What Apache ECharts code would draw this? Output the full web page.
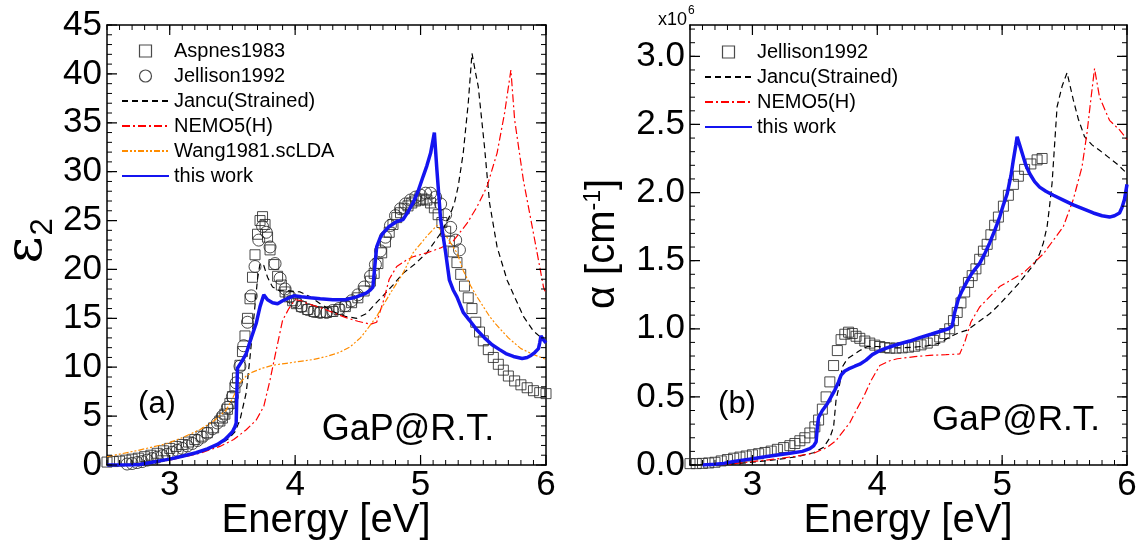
<!DOCTYPE html>
<html>
<head>
<meta charset="utf-8">
<script src="https://cdn.jsdelivr.net/npm/echarts@6/dist/echarts.min.js"></script>
<style>
  html, body { margin: 0; padding: 0; background: #fff; }
  #chart { width: 1143px; height: 546px; }
</style>
</head>
<body>
<div id="chart"></div>
<script>
// ---- tick labels ----
const energyTicks = [3, 4, 5, 6];
const eps2Ticks = [0, 5, 10, 15, 20, 25, 30, 35, 40, 45];
const alphaTicks = [0, 0.5, 1.0, 1.5, 2.0, 2.5, 3.0];

// ---- (a) imaginary dielectric function eps2 ----
const aspnesE = [2.50,2.55,2.60,2.65,2.70,2.75,2.80,2.85,2.90,2.95,3.00,3.05,3.10,3.15,3.20,3.25,3.30,3.35,3.40,3.42,3.44,3.46,3.48,3.50,3.52,3.54,3.56,3.58,3.60,3.62,3.64,3.66,3.68,3.70,3.72,3.74,3.76,3.78,3.80,3.83,3.86,3.89,3.92,3.95,3.98,4.01,4.05,4.10,4.15,4.20,4.25,4.30,4.35,4.40,4.45,4.50,4.55,4.60,4.63,4.66,4.69,4.72,4.75,4.78,4.81,4.84,4.87,4.90,4.93,4.96,4.99,5.02,5.05,5.08,5.11,5.14,5.17,5.20,5.23,5.26,5.29,5.32,5.35,5.38,5.41,5.44,5.47,5.50,5.54,5.58,5.62,5.66,5.70,5.75,5.80,5.85,5.90,5.95,6.00];
const aspnesEps2 = [0.30,0.35,0.40,0.50,0.60,0.70,0.85,1.00,1.20,1.45,1.70,1.90,2.10,2.35,2.60,2.95,3.30,3.80,4.50,4.80,5.20,5.70,6.30,7.00,7.90,8.90,10.2,11.6,13.2,15.0,17.0,19.2,21.5,23.6,25.0,25.4,24.6,23.3,22.0,20.5,19.3,18.4,17.7,17.2,16.8,16.5,16.2,15.9,15.7,15.6,15.6,15.7,15.9,16.2,16.6,17.1,17.8,18.8,19.6,20.6,21.7,22.8,23.8,24.6,25.3,25.8,26.2,26.5,26.8,27.0,27.1,27.2,27.1,26.8,26.3,25.6,24.8,23.9,22.9,21.8,20.7,19.5,18.3,17.1,16.0,14.6,13.6,12.7,11.8,11.0,10.3,9.7,9.1,8.6,8.2,7.9,7.6,7.4,7.3];

const jellisonE = [2.66,2.70,2.74,2.78,2.82,2.86,2.90,2.94,2.98,3.02,3.06,3.10,3.14,3.18,3.22,3.26,3.30,3.34,3.38,3.42,3.46,3.50,3.53,3.56,3.59,3.62,3.65,3.68,3.71,3.74,3.77,3.80,3.84,3.88,3.92,3.96,4.00,4.05,4.10,4.15,4.20,4.25,4.30,4.35,4.40,4.45,4.50,4.55,4.60,4.64,4.68,4.72,4.76,4.80,4.84,4.88,4.92,4.96,5.00,5.04,5.08,5.12,5.16,5.20,5.24,5.28,5.31];
const jellisonEps2 = [0.10,0.15,0.25,0.35,0.50,0.65,0.80,0.95,1.10,1.30,1.50,1.70,1.95,2.20,2.50,2.85,3.25,3.70,4.30,5.00,5.90,7.00,8.40,10.1,12.2,14.6,17.3,20.3,23.0,24.4,23.8,22.3,20.6,19.1,18.0,17.2,16.7,16.2,15.9,15.7,15.6,15.6,15.8,16.0,16.3,16.8,17.4,18.2,19.3,20.5,21.9,23.3,24.5,25.5,26.2,26.7,27.1,27.4,27.6,27.8,27.8,27.4,26.7,25.6,24.3,23.0,22.0];

const jancuE = [2.50,2.70,2.80,2.90,3.00,3.10,3.20,3.30,3.40,3.47,3.52,3.56,3.61,3.64,3.67,3.70,3.72,3.75,3.78,3.82,3.88,3.95,4.04,4.12,4.20,4.30,4.40,4.49,4.57,4.64,4.70,4.78,4.86,4.95,5.05,5.16,5.23,5.27,5.30,5.34,5.38,5.41,5.44,5.46,5.51,5.55,5.61,5.69,5.76,5.82,5.90,6.00];
const jancuEps2 = [0,0.02,0.10,0.30,0.55,0.85,1.15,1.55,2.10,2.70,3.40,4.60,7.40,11.0,15.0,19.0,20.6,20.4,19.2,18.2,17.8,17.8,17.7,17.2,16.5,15.7,15.2,15.0,15.5,16.5,17.3,18.4,19.6,20.5,21.7,23.7,25.4,26.8,28.5,31.9,37.0,42.1,40.0,38.7,32.5,26.8,22.3,18.9,16.9,15.2,13.7,12.6];

const nemoE = [2.50,2.70,2.84,3.00,3.24,3.40,3.51,3.61,3.69,3.75,3.80,3.85,3.90,3.95,4.00,4.05,4.10,4.20,4.30,4.40,4.50,4.60,4.65,4.70,4.75,4.81,4.88,4.94,5.05,5.16,5.26,5.37,5.45,5.53,5.61,5.67,5.72,5.75,5.82,5.90,5.98,6.00];
const nemoEps2 = [0,0,0.2,0.5,1.2,1.9,2.6,3.6,4.6,6.0,8.7,11.8,14.8,16.0,16.9,16.8,16.5,16.1,15.6,15.1,14.7,14.4,14.6,16.6,19.0,20.3,20.9,21.3,21.7,22.2,22.9,24.7,26.4,28.5,31.9,36.0,40.4,35.3,29.1,23.7,18.2,17.5];

const wangE = [2.50,2.75,2.98,3.10,3.24,3.35,3.45,3.50,3.56,3.61,3.66,3.74,3.82,3.93,4.04,4.15,4.25,4.35,4.44,4.52,4.57,4.65,4.71,4.76,4.81,4.86,4.94,5.05,5.13,5.21,5.29,5.34,5.40,5.45,5.55,5.60,5.70,5.80,5.90,6.00];
const wangEps2 = [0.85,1.5,2.2,2.8,3.6,4.5,5.6,6.8,8.4,9.1,9.5,9.9,10.2,10.4,10.6,10.8,11.1,11.5,12.1,13.0,13.8,15.2,16.5,17.6,18.6,19.6,21.7,23.4,24.5,23.3,21.7,19.9,18.3,17.2,15.2,14.4,13.0,11.9,11.3,10.8];

const workE = [2.50,2.60,2.70,2.76,2.85,2.95,3.00,3.10,3.21,3.30,3.38,3.44,3.47,3.50,3.52,3.53,3.54,3.58,3.61,3.65,3.69,3.72,3.75,3.78,3.82,3.86,3.90,3.95,3.99,4.05,4.12,4.20,4.30,4.40,4.49,4.57,4.60,4.62,4.64,4.65,4.68,4.70,4.75,4.81,4.86,4.90,4.94,4.98,5.02,5.05,5.08,5.11,5.13,5.16,5.20,5.23,5.26,5.29,5.34,5.39,5.45,5.51,5.57,5.63,5.68,5.74,5.81,5.85,5.88,5.91,5.94,5.95,5.96,5.98,6.00];
const workEps2 = [0,0,0,0.05,0.25,0.50,0.60,0.90,1.25,1.65,2.10,2.60,3.00,3.40,3.90,4.30,9.90,10.7,11.4,13.0,14.5,16.2,17.4,16.9,16.6,16.5,16.8,17.1,17.3,17.2,17.1,17.0,16.9,16.9,17.2,17.6,17.9,18.2,21.0,22.3,23.3,23.7,24.4,24.9,25.1,25.9,26.8,28.0,29.5,30.6,31.9,34.0,30.2,25.1,21.7,18.9,17.9,17.2,15.6,14.8,13.8,13.0,12.3,11.8,11.4,11.1,10.9,11.0,11.2,11.5,11.9,12.5,13.2,12.8,12.5];

// ---- (b) absorption coefficient alpha, in units of 1e6 cm^-1 ----
const jellisonAlphaE = [2.50,2.55,2.60,2.65,2.70,2.75,2.80,2.85,2.90,2.95,3.00,3.05,3.10,3.15,3.20,3.25,3.30,3.34,3.38,3.42,3.46,3.50,3.53,3.56,3.59,3.62,3.65,3.68,3.71,3.74,3.77,3.80,3.83,3.86,3.90,3.94,3.98,4.02,4.06,4.10,4.15,4.20,4.25,4.30,4.35,4.40,4.45,4.50,4.54,4.58,4.61,4.64,4.67,4.70,4.73,4.76,4.79,4.82,4.85,4.88,4.91,4.94,4.97,5.01,5.05,5.09,5.13,5.18,5.23,5.28,5.32];
const jellisonAlpha = [0.010,0.010,0.012,0.015,0.020,0.030,0.040,0.050,0.058,0.066,0.075,0.083,0.092,0.102,0.115,0.128,0.142,0.158,0.178,0.20,0.235,0.28,0.33,0.41,0.50,0.61,0.73,0.84,0.92,0.96,0.975,0.965,0.945,0.93,0.91,0.895,0.88,0.87,0.862,0.858,0.858,0.86,0.865,0.872,0.882,0.895,0.915,0.94,0.965,1.00,1.06,1.12,1.19,1.27,1.34,1.39,1.44,1.51,1.57,1.62,1.69,1.76,1.82,1.90,1.98,2.06,2.12,2.17,2.21,2.24,2.25];

const jancuAlphaE = [2.50,2.80,3.00,3.20,3.35,3.49,3.57,3.62,3.65,3.67,3.70,3.72,3.76,3.81,3.86,3.92,4.00,4.10,4.20,4.30,4.40,4.50,4.58,4.65,4.72,4.81,4.90,4.98,5.06,5.13,5.20,5.26,5.30,5.33,5.36,5.38,5.40,5.42,5.44,5.48,5.52,5.57,5.61,5.66,5.72,5.78,5.85,5.92,6.00];
const jancuAlpha = [0,0.005,0.02,0.04,0.06,0.09,0.13,0.20,0.28,0.48,0.60,0.72,0.78,0.81,0.84,0.87,0.87,0.86,0.86,0.865,0.875,0.895,0.94,0.97,0.99,1.05,1.11,1.18,1.26,1.33,1.41,1.48,1.55,1.63,1.75,1.90,2.07,2.35,2.63,2.78,2.88,2.68,2.54,2.41,2.35,2.31,2.26,2.21,2.14];

const nemoAlphaE = [2.60,2.80,3.00,3.20,3.34,3.49,3.60,3.67,3.72,3.78,3.83,3.89,3.95,4.02,4.10,4.16,4.30,4.42,4.55,4.66,4.70,4.75,4.82,4.98,5.17,5.33,5.49,5.57,5.64,5.68,5.71,5.74,5.78,5.86,5.94,6.00];
const nemoAlpha = [0,0.005,0.025,0.045,0.064,0.086,0.13,0.18,0.24,0.31,0.40,0.50,0.62,0.73,0.765,0.78,0.795,0.805,0.81,0.815,0.90,1.05,1.16,1.31,1.41,1.55,1.75,1.95,2.19,2.44,2.68,2.91,2.70,2.53,2.46,2.39];

const workAlphaE = [2.60,2.70,2.77,2.85,2.99,3.10,3.20,3.30,3.40,3.46,3.49,3.51,3.52,3.53,3.56,3.60,3.63,3.66,3.69,3.71,3.74,3.77,3.82,3.86,3.91,3.96,4.00,4.05,4.11,4.18,4.26,4.34,4.43,4.50,4.57,4.60,4.62,4.65,4.68,4.72,4.76,4.82,4.86,4.90,4.94,4.98,5.01,5.04,5.07,5.09,5.11,5.12,5.14,5.16,5.19,5.22,5.26,5.30,5.35,5.41,5.49,5.57,5.65,5.73,5.80,5.86,5.90,5.94,5.96,5.98,6.00];
const workAlpha = [0,0.005,0.012,0.025,0.045,0.060,0.074,0.087,0.100,0.12,0.14,0.17,0.28,0.35,0.40,0.45,0.50,0.55,0.61,0.66,0.69,0.705,0.725,0.74,0.77,0.81,0.83,0.85,0.87,0.89,0.91,0.935,0.96,0.98,1.00,1.02,1.12,1.22,1.28,1.35,1.41,1.48,1.55,1.63,1.72,1.82,1.91,1.99,2.12,2.24,2.35,2.41,2.35,2.29,2.20,2.14,2.08,2.04,2.01,1.98,1.945,1.91,1.88,1.85,1.83,1.82,1.83,1.85,1.89,1.95,2.06];

const pairs = (xs, ys) => xs.map((x, i) => [x, ys[i]]);

const FONT = 'Liberation Sans, Arial, sans-serif';
const BLUE = '#1414f0';
const TICK_FONT = 35;
const E_MIN = 2.5, E_MAX = 6;
const EPS2_MAX = 45, ALPHA_MAX = 3.23;

const GRIDS = [
  { left: 107, top: 25, width: 439, height: 440 },
  { left: 690, top: 25, width: 437, height: 440 }
];

// ---- axes: labelled bottom/left axis and plain mirrored top/right axis per panel ----
function frameLine() {
  return { show: true, onZero: false, lineStyle: { color: '#000', width: 1.5 } };
}
function xAxesFor(gi) {
  const base = () => ({ type: 'value', gridIndex: gi, min: E_MIN, max: E_MAX, splitLine: { show: false }, axisTick: { show: false } });
  return [
    Object.assign(base(), { position: 'bottom', axisLine: frameLine(),
      axisLabel: { show: true, customValues: energyTicks, fontSize: TICK_FONT, fontFamily: FONT, color: '#000', margin: 3 } }),
    Object.assign(base(), { position: 'top', axisLine: frameLine(), axisLabel: { show: false } })
  ];
}
function yAxesFor(gi, max, ticks, digits) {
  const base = () => ({ type: 'value', gridIndex: gi, min: 0, max: max, splitLine: { show: false }, axisTick: { show: false } });
  return [
    Object.assign(base(), { position: 'left', axisLine: frameLine(),
      axisLabel: { show: true, customValues: ticks, fontSize: TICK_FONT, fontFamily: FONT, color: '#000', margin: 5,
                   formatter: (v) => Number(v).toFixed(digits) } }),
    Object.assign(base(), { position: 'right', axisLine: frameLine(), axisLabel: { show: false } })
  ];
}

// ---- inward tick marks on all four sides, as short broken line segments in data units ----
// px lengths are converted with the panel's own axis spans
function tickSegments(grid, yMax, xVals, yVals, lenPx) {
  const dx = lenPx * (E_MAX - E_MIN) / grid.width;
  const dy = lenPx * yMax / grid.height;
  const seg = [];
  xVals.forEach(v => {
    seg.push([v, 0], [v, dy], [v, NaN]);
    seg.push([v, yMax], [v, yMax - dy], [v, NaN]);
  });
  yVals.forEach(v => {
    seg.push([E_MIN, v], [E_MIN + dx, v], [E_MIN, NaN]);
    seg.push([E_MAX, v], [E_MAX - dx, v], [E_MAX, NaN]);
  });
  return seg;
}
function steps(from, to, step) {
  const out = [];
  const n = Math.round((to - from) / step);
  for (let i = 0; i <= n; i++) out.push(+(from + i * step).toFixed(4));
  return out;
}
function tickLine(data, xi, yi, width) {
  return { type: 'line', xAxisIndex: xi, yAxisIndex: yi, data,
           showSymbol: false, symbol: 'none', connectNulls: false, clip: false, silent: true, z: 3,
           lineStyle: { color: '#000', width, type: 'solid' } };
}

function scatter(name, data, xi, yi, symbol, size) {
  return {
    name, type: 'scatter', xAxisIndex: xi, yAxisIndex: yi, data,
    symbol, symbolSize: size,
    itemStyle: { color: 'rgba(0,0,0,0)', borderColor: '#2a2a2a', borderWidth: 1, opacity: 0.85 }
  };
}
function curve(name, data, xi, yi, color, width, dash) {
  return {
    name, type: 'line', xAxisIndex: xi, yAxisIndex: yi, data,
    showSymbol: false, symbol: 'none',
    lineStyle: { color, width, type: dash },
    itemStyle: { color }
  };
}

const DASH = [6, 4];
const DASHDOT = [8, 3, 2, 3];
const DASHDOTDOT = [6, 2, 2, 2, 2, 2];

const series = [
  scatter('a:Aspnes1983', pairs(aspnesE, aspnesEps2), 0, 0, 'rect', 10),
  scatter('a:Jellison1992', pairs(jellisonE, jellisonEps2), 0, 0, 'circle', 12),
  curve('a:Jancu(Strained)', pairs(jancuE, jancuEps2), 0, 0, '#000', 1.2, DASH),
  curve('a:NEMO5(H)', pairs(nemoE, nemoEps2), 0, 0, '#ff0000', 1.2, DASHDOT),
  curve('a:Wang1981.scLDA', pairs(wangE, wangEps2), 0, 0, '#ff8c00', 1.2, DASHDOTDOT),
  curve('a:this work', pairs(workE, workEps2), 0, 0, BLUE, 3.5, 'solid'),
  tickLine(tickSegments(GRIDS[0], EPS2_MAX, energyTicks, eps2Ticks, 10), 0, 0, 1.2),
  tickLine(tickSegments(GRIDS[0], EPS2_MAX, steps(E_MIN, E_MAX, 0.1), steps(0, EPS2_MAX, 1), 5), 0, 0, 1),

  scatter('b:Jellison1992', pairs(jellisonAlphaE, jellisonAlpha), 2, 2, 'rect', 10),
  curve('b:Jancu(Strained)', pairs(jancuAlphaE, jancuAlpha), 2, 2, '#000', 1.2, DASH),
  curve('b:NEMO5(H)', pairs(nemoAlphaE, nemoAlpha), 2, 2, '#ff0000', 1.2, DASHDOT),
  curve('b:this work', pairs(workAlphaE, workAlpha), 2, 2, BLUE, 3.5, 'solid'),
  tickLine(tickSegments(GRIDS[1], ALPHA_MAX, energyTicks, alphaTicks, 10), 2, 2, 1.2),
  tickLine(tickSegments(GRIDS[1], ALPHA_MAX, steps(E_MIN, E_MAX, 0.1), steps(0, 3.2, 0.1), 5), 2, 2, 1)
];

// legend entries: open markers for data, bare lines for calculations
const SQUARE = 'path://M0,0H10V10H0Z';
const markerIcon = { color: 'rgba(0,0,0,0)', borderColor: '#2a2a2a', borderWidth: 1.2 };
const noMarker = { color: 'rgba(0,0,0,0)', borderColor: 'rgba(0,0,0,0)', borderWidth: 0, opacity: 0 };
function legendFor(left, top, data) {
  return {
    left, top, data,
    orient: 'vertical', itemWidth: 47, itemHeight: 12, itemGap: 5, selectedMode: false,
    symbolKeepAspect: true,
    textStyle: { fontSize: 20, fontFamily: FONT, color: '#000', lineHeight: 20 },
    formatter: (n) => n.slice(2)
  };
}

function label(text, x, y, size) {
  return { type: 'text', x, y,
    style: { text, fontSize: size, fontFamily: FONT, fill: '#000',
             align: 'center', verticalAlign: 'middle', textAlign: 'center', textVerticalAlign: 'middle' } };
}

const option = {
  animation: false,
  grid: GRIDS.map(g => Object.assign({}, g)),
  xAxis: xAxesFor(0).concat(xAxesFor(1)),
  yAxis: yAxesFor(0, EPS2_MAX, eps2Ticks, 0).concat(yAxesFor(1, ALPHA_MAX, alphaTicks, 1)),
  legend: [
    legendFor(116, 36, [
      { name: 'a:Aspnes1983', icon: SQUARE, itemStyle: markerIcon },
      { name: 'a:Jellison1992', icon: 'circle', itemStyle: markerIcon },
      { name: 'a:Jancu(Strained)', itemStyle: noMarker },
      { name: 'a:NEMO5(H)', itemStyle: noMarker },
      { name: 'a:Wang1981.scLDA', itemStyle: noMarker },
      { name: 'a:this work', itemStyle: noMarker }
    ]),
    legendFor(699, 37, [
      { name: 'b:Jellison1992', icon: SQUARE, itemStyle: markerIcon },
      { name: 'b:Jancu(Strained)', itemStyle: noMarker },
      { name: 'b:NEMO5(H)', itemStyle: noMarker },
      { name: 'b:this work', itemStyle: noMarker }
    ])
  ],
  graphic: [
    // y-axis title of panel (a): epsilon with subscript 2
    { type: 'text', x: 27, y: 250, rotation: Math.PI / 2,
      style: { text: 'ε', fontSize: 52, fontFamily: 'DejaVu Serif, serif', fill: '#000',
               align: 'center', verticalAlign: 'middle', textAlign: 'center', textVerticalAlign: 'middle' } },
    { type: 'text', x: 43, y: 227, rotation: Math.PI / 2,
      style: { text: '2', fontSize: 31, fontFamily: FONT, fill: '#000',
               align: 'center', verticalAlign: 'middle', textAlign: 'center', textVerticalAlign: 'middle' } },
    // y-axis title of panel (b)
    { type: 'text', x: 603, y: 244, rotation: Math.PI / 2,
      style: { text: '{a|α [cm}{b|-1}{a|]}', fill: '#000',
               align: 'center', verticalAlign: 'middle', textAlign: 'center', textVerticalAlign: 'middle',
               rich: {
                 a: { fontSize: 40, fontFamily: FONT, fill: '#000', lineHeight: 42 },
                 b: { fontSize: 23, fontFamily: FONT, fill: '#000', verticalAlign: 'top', lineHeight: 23 }
               } } },
    label('Energy [eV]', 326, 521, 40),
    label('Energy [eV]', 908, 521, 40),
    label('(a)', 157, 404, 31),
    label('(b)', 737, 404, 31),
    label('GaP@R.T.', 408, 430, 36),
    label('GaP@R.T.', 1016, 420, 35),
    // scale factor of the alpha axis
    { type: 'text', x: 687, y: 20,
      style: { text: 'x10', fontSize: 18, fontFamily: FONT, fill: '#000',
               align: 'right', verticalAlign: 'middle', textAlign: 'right', textVerticalAlign: 'middle' } },
    { type: 'text', x: 688, y: 11,
      style: { text: '6', fontSize: 12, fontFamily: FONT, fill: '#000',
               align: 'left', verticalAlign: 'middle', textAlign: 'left', textVerticalAlign: 'middle' } }
  ],
  series
};

const chart = echarts.init(document.getElementById('chart'));
chart.setOption(option);
</script>
</body>
</html>
